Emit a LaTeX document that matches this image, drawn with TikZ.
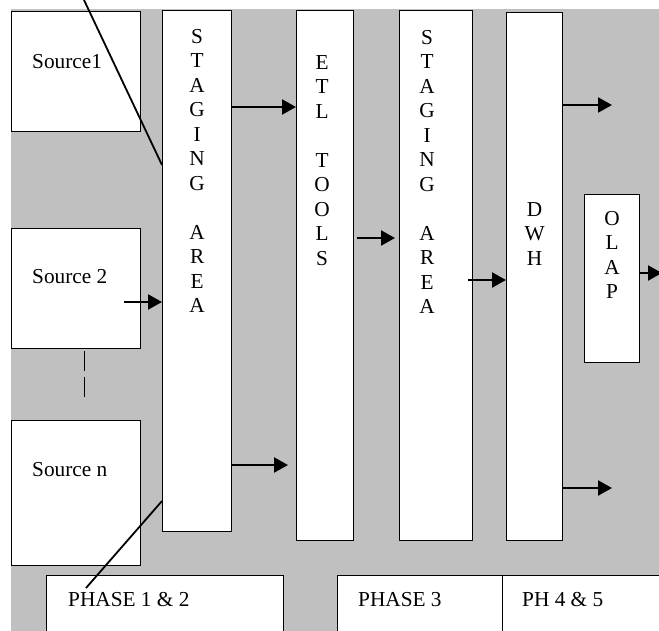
\documentclass[tikz,border=0pt]{standalone}
\usepackage{fontspec}
\setmainfont{Liberation Serif}
\usepackage{tikz}
\usetikzlibrary{arrows.meta,positioning}
\definecolor{bggray}{RGB}{192,192,192}

\begin{document}
\begin{tikzpicture}[x=1pt,y=-1pt,
	box/.style={draw, fill=white, line width=1.3pt, anchor=north west, inner sep=0pt},
	letters/.style={align=center, inner sep=0pt, font=\fontsize{21.3}{24.5}\selectfont},
	lbl/.style={anchor=base west, inner sep=0pt, font=\fontsize{21.3}{24.5}\selectfont},
	flow/.style={-{Triangle[length=14pt,width=15pt]}, line width=2.2pt},
	slash/.style={line width=1.8pt}]
\useasboundingbox (0,0) rectangle (659,630);
\fill[bggray] (11,9) rectangle (670,640);
% sources
\node[box, minimum width=129pt, minimum height=120pt] (src1) at (11,11) {};
\node[box, minimum width=129pt, minimum height=120pt] (src2) at (11,228) {};
\node[box, minimum width=129pt, minimum height=145pt] (srcn) at (11,420) {};
% columns
\node[box, minimum width=69pt, minimum height=521pt] (sa1) at (162,10) {};
\node[box, minimum width=57pt, minimum height=530pt] (etl) at (296,10) {};
\node[box, minimum width=73pt, minimum height=530pt] (sa2) at (399,10) {};
\node[box, minimum width=56pt, minimum height=528pt] (dwh) at (506,12) {};
\node[box, minimum width=55pt, minimum height=168pt] (olap) at (584,194) {};
% phases
\node[box, minimum width=237pt, minimum height=60pt] (ph12) at (46,575) {};
\node[box, minimum width=165pt, minimum height=60pt] (ph3) at (337,575) {};
\node[box, minimum width=162pt, minimum height=60pt] (ph45) at (502,575) {};

\node[lbl] at ([xshift=21pt,yshift=-57pt]src1.north west) {Source1};
\node[lbl] at ([xshift=21pt,yshift=-55pt]src2.north west) {Source 2};
\node[lbl] at ([xshift=21pt,yshift=-56pt]srcn.north west) {Source n};
\node[lbl] at ([xshift=22pt,yshift=-31pt]ph12.north west) {PHASE 1 \& 2};
\node[lbl] at ([xshift=21pt,yshift=-31pt]ph3.north west) {PHASE 3};
\node[lbl] at ([xshift=20pt,yshift=-31pt]ph45.north west) {PH 4 \& 5};

\node[letters, below=19pt of sa1.north] {S\\T\\A\\G\\I\\N\\G\\[24.5pt]A\\R\\E\\A};
\node[letters, below=45pt of etl.north, xshift=-3pt] {E\\T\\L\\[24.5pt]T\\O\\O\\L\\S};
\node[letters, below=20pt of sa2.north, xshift=-9pt] {S\\T\\A\\G\\I\\N\\G\\[24.5pt]A\\R\\E\\A};
\node[letters, below=190pt of dwh.north] {D\\W\\H};
\node[letters, below=17pt of olap.north] {O\\L\\A\\P};

\coordinate (top) at (84,0);
\coordinate (foot) at (86,588);
\coordinate (out1) at (612,105);
\coordinate (out2) at (612,488);
\coordinate (out3) at (662,273);

\path[flow]
([yshift=-97pt]sa1.north east) edge ([yshift=-97pt]etl.north west)
([xshift=-17pt,yshift=-74pt]src2.north east) edge ([yshift=-292pt]sa1.north west)
([yshift=-455pt]sa1.north east) edge ([xshift=-8pt,yshift=-455pt]etl.north west)
([xshift=3pt,yshift=-228pt]etl.north east) edge ([xshift=-4pt,yshift=-228pt]sa2.north west)
([xshift=-5pt,yshift=-270pt]sa2.north east) edge ([yshift=-268pt]dwh.north west)
([yshift=-93pt]dwh.north east) edge (out1)
([yshift=-476pt]dwh.north east) edge (out2)
([yshift=-79pt]olap.north east) edge (out3)
;
\draw[slash] (top) -- ([yshift=-155pt]sa1.north west);
\draw[slash] ([yshift=-491pt]sa1.north west) -- (foot);
\draw[line width=1.4pt, dash pattern=on 20pt off 6pt]
	([xshift=8.5pt,yshift=-2pt]src2.south) -- ([xshift=8.5pt,yshift=20pt]srcn.north);
\end{tikzpicture}
\end{document}
